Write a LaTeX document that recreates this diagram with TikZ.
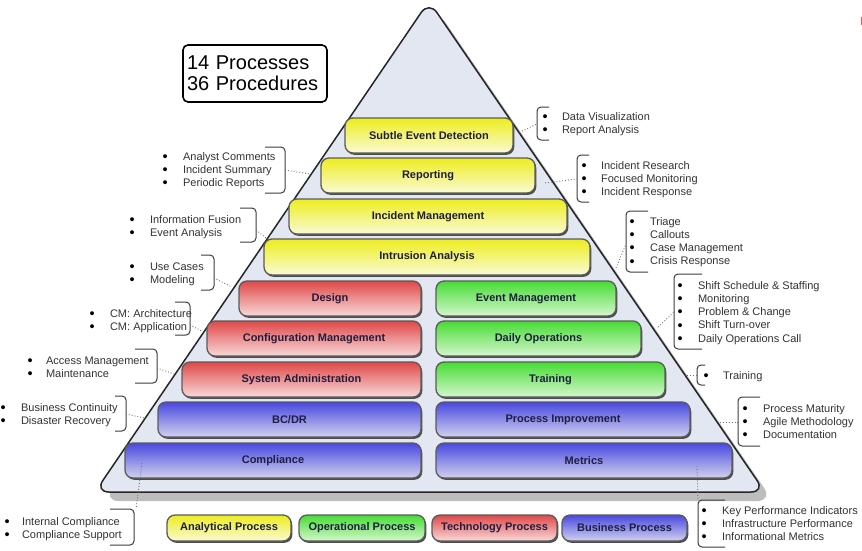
\documentclass[tikz,border=0pt]{standalone}
\usepackage{fontspec}
\setmainfont{Liberation Sans}
\usetikzlibrary{shadows}

\definecolor{pyrfill}{HTML}{E2E7F2}
\definecolor{pyrshadow}{HTML}{BDBDBD}
\definecolor{barline}{HTML}{5A5A5A}
\definecolor{barshadow}{HTML}{4C4C4C}
\definecolor{bartext}{HTML}{1E1E40}
\definecolor{listgray}{HTML}{333333}
\definecolor{brkgray}{HTML}{3C3C3C}
\definecolor{dotgray}{HTML}{707070}
\definecolor{ytop}{HTML}{EDED1E}
\definecolor{ybot}{HTML}{FAFAD6}
\definecolor{rtop}{HTML}{E04848}
\definecolor{rbot}{HTML}{F8DADA}
\definecolor{gtop}{HTML}{46DC34}
\definecolor{gbot}{HTML}{D6F6CE}
\definecolor{btop}{HTML}{4848E0}
\definecolor{bbot}{HTML}{D2D2EE}

% a slightly heavier bullet, kept at a fixed width
\newcommand{\bigdot}{\makebox[3.85pt]{\raisebox{-1.3pt}{\color{black}\fontsize{14.5}{13}\selectfont\textbullet}}}
% one bulleted row of a side list
\newcommand{\itm}[1]{\bigdot & #1\\}

\begin{document}
\begin{tikzpicture}[x=1pt,y=-1pt,
  pbar/.style={rounded corners=8pt, draw=barline, line width=1.3pt,
    drop shadow={shadow xshift=1.3pt, shadow yshift=-1.8pt, fill=barshadow, opacity=1},
    font=\fontsize{11}{13}\selectfont\bfseries, text=bartext, inner sep=0pt},
  ybar/.style={pbar, top color=ytop, bottom color=ybot},
  rbar/.style={pbar, top color=rtop, bottom color=rbot},
  gbar/.style={pbar, top color=gtop, bottom color=gbot},
  bbar/.style={pbar, top color=btop, bottom color=bbot},
  listtxt/.style={anchor=base west, inner sep=0pt,
    font=\fontsize{11}{13.3}\selectfont, text=listgray},
  brk/.style={draw=brkgray, line width=1pt, rounded corners=4pt},
  dots/.style={draw=dotgray, dotted, line width=0.9pt},
]
\useasboundingbox (0,0) rectangle (862,550);
\fill[white] (0,0) rectangle (862,550);

% pyramid with its shadow
\fill[pyrshadow, rounded corners=16pt]
  (437,501) -- (103,501) -- (437,10) -- (773,501) -- cycle;
\draw[fill=pyrfill, draw=black!85, line width=1.5pt, rounded corners=14pt]
  (429,492) -- (95,492) -- (429,1) -- (765,492) -- cycle;

% summary box
\node[draw, fill=white, line width=1.6pt, rounded corners=5pt,
  minimum width=144pt, minimum height=57pt, text width=136pt,
  inner xsep=4pt, align=left, font=\fontsize{20}{21}\selectfont]
  (summary) at (255,73.5) {14 Processes\\36 Procedures};

% analytical layers
\node[ybar, minimum width=168pt, minimum height=35pt] (sed) at (429,135.5) {Subtle Event Detection};
\node[ybar, minimum width=214pt, minimum height=35pt] (rep) at (428,175.5) {Reporting};
\node[ybar, minimum width=278pt, minimum height=35pt] (im)  at (428,216.5) {Incident Management};
\node[ybar, minimum width=326pt, minimum height=36pt] (ia)  at (427,257) {Intrusion Analysis};

% technology and operational layers
\node[rbar, minimum width=182pt, minimum height=35pt] (des) at (330,298.5) {Design};
\node[gbar, minimum width=180pt, minimum height=35pt] (em)  at (526,298.5) {Event Management};
\node[rbar, minimum width=214pt, minimum height=35pt] (cm)  at (314,338.5) {Configuration Management};
\node[gbar, minimum width=205pt, minimum height=35pt] (do)  at (538.5,338.5) {Daily Operations};
\node[rbar, minimum width=239pt, minimum height=35pt] (sa)  at (301.5,379.5) {System Administration};
\node[gbar, minimum width=229pt, minimum height=35pt] (tr)  at (550.5,379.5) {Training};

% business layers
\node[bbar, minimum width=263pt, minimum height=35pt] (bc)  at (289.5,419.5) {BC/DR};
\node[bbar, minimum width=254pt, minimum height=35pt] (pi)  at (563,419.5) {Process Improvement};
\node[bbar, minimum width=296pt, minimum height=35pt] (co)  at (273,460.5) {Compliance};
\node[bbar, minimum width=296pt, minimum height=35pt] (me)  at (584,460.5) {Metrics};

% legend
\node[ybar, minimum width=124pt, minimum height=26pt] (lgA) at (229,528) {Analytical Process};
\node[gbar, minimum width=126pt, minimum height=26pt] (lgO) at (362,528) {Operational Process};
\node[rbar, minimum width=125pt, minimum height=26pt] (lgT) at (494.5,528) {Technology Process};
\node[bbar, minimum width=125pt, minimum height=26pt] (lgB) at (624.5,528) {Business Process};

% procedure lists, right side
\node[listtxt] (lSED) at (543,120) {\begin{tabular}[t]{@{}c@{\hspace{15pt}}l@{}}\itm{Data Visualization}\itm{Report Analysis}\end{tabular}};
\draw[brk] (549,107) -- (537,107) -- (537,140) -- (549,140);
\coordinate (sedE) at (522,131); \coordinate (sedB) at (537,124);
\draw[dots] (sedE) -- (sedB);

\node[listtxt] (lREP) at (582,169) {\begin{tabular}[t]{@{}c@{\hspace{15pt}}l@{}}\itm{Incident Research}\itm{Focused Monitoring}\itm{Incident Response}\end{tabular}};
\draw[brk] (589,155) -- (577,155) -- (577,202) -- (589,202);
\coordinate (repE) at (545,183); \coordinate (repB) at (577,179);
\draw[dots] (repE) -- (repB);

\node[listtxt] (lIA) at (630,225) {\begin{tabular}[t]{@{}c@{\hspace{16pt}}l@{}}\itm{Triage}\itm{Callouts}\itm{Case Management}\itm{Crisis Response}\end{tabular}};
\draw[brk] (648,211) -- (626,211) -- (626,272) -- (648,272);
\coordinate (iaE) at (616,268); \coordinate (iaB) at (626,244);
\draw[dots] (iaE) -- (iaB);

\node[listtxt] (lDO) at (678,289) {\begin{tabular}[t]{@{}c@{\hspace{16pt}}l@{}}\itm{Shift Schedule \& Staffing}\itm{Monitoring}\itm{Problem \& Change}\itm{Shift Turn-over}\itm{Daily Operations Call}\end{tabular}};
\draw[brk] (702,274) -- (674,274) -- (674,349) -- (702,349);
\coordinate (doE) at (658,327); \coordinate (doB) at (674,312);
\draw[dots] (doE) -- (doB);

\node[listtxt] (lTR) at (704,379) {\begin{tabular}[t]{@{}c@{\hspace{15pt}}l@{}}\itm{Training}\end{tabular}};
\draw[brk] (705,365) -- (697,365) -- (697,385) -- (705,385);
\coordinate (trE) at (684,375); \coordinate (trB) at (697,375);
\draw[dots] (trE) -- (trB);

\node[listtxt] (lPI) at (743,412) {\begin{tabular}[t]{@{}c@{\hspace{16pt}}l@{}}\itm{Process Maturity}\itm{Agile Methodology}\itm{Documentation}\end{tabular}};
\draw[brk] (760,397) -- (738,397) -- (738,446) -- (760,446);
\coordinate (piE) at (720,422); \coordinate (piB) at (738,422);
\draw[dots] (piE) -- (piB);

\node[listtxt] (lME) at (702,514) {\begin{tabular}[t]{@{}c@{\hspace{16pt}}l@{}}\itm{Key Performance Indicators}\itm{Infrastructure Performance}\itm{Informational Metrics}\end{tabular}};
\draw[brk] (725,500) -- (698,500) -- (698,547) -- (725,547);
\coordinate (meE) at (697,466); \coordinate (meB) at (698,500);
\draw[dots] (meE) -- (meB);

% procedure lists, left side
\node[listtxt] (lRP) at (163,160) {\begin{tabular}[t]{@{}c@{\hspace{16pt}}l@{}}\itm{Analyst Comments}\itm{Incident Summary}\itm{Periodic Reports}\end{tabular}};
\draw[brk] (265,147) -- (285,147) -- (285,193) -- (265,193);
\coordinate (rpB) at (285,170); \coordinate (rpE) at (310,174);
\draw[dots] (rpB) -- (rpE);

\node[listtxt] (lIM) at (130,223) {\begin{tabular}[t]{@{}c@{\hspace{16pt}}l@{}}\itm{Information Fusion}\itm{Event Analysis}\end{tabular}};
\draw[brk] (240,208) -- (256,208) -- (256,242) -- (240,242);
\coordinate (imB) at (256,230); \coordinate (imE) at (266,238);
\draw[dots] (imB) -- (imE);

\node[listtxt] (lDE) at (130,270) {\begin{tabular}[t]{@{}c@{\hspace{16pt}}l@{}}\itm{Use Cases}\itm{Modeling}\end{tabular}};
\draw[brk] (201,255) -- (214,255) -- (214,290) -- (201,290);
\coordinate (deB) at (214,278); \coordinate (deE) at (232,287);
\draw[dots] (deB) -- (deE);

\node[listtxt] (lCM) at (90,317) {\begin{tabular}[t]{@{}c@{\hspace{16pt}}l@{}}\itm{CM: Architecture}\itm{CM: Application}\end{tabular}};
\draw[brk] (175,302) -- (190,302) -- (190,335) -- (175,335);
\coordinate (cmB) at (190,325); \coordinate (cmE) at (202,331);
\draw[dots] (cmB) -- (cmE);

\node[listtxt] (lSA) at (28,364) {\begin{tabular}[t]{@{}c@{\hspace{14pt}}l@{}}\itm{Access Management}\itm{Maintenance}\end{tabular}};
\draw[brk] (135,349) -- (157,349) -- (157,383) -- (135,383);
\coordinate (saB) at (157,368); \coordinate (saE) at (174,374);
\draw[dots] (saB) -- (saE);

\node[listtxt] (lBC) at (1,411) {\begin{tabular}[t]{@{}c@{\hspace{16pt}}l@{}}\itm{Business Continuity}\itm{Disaster Recovery}\end{tabular}};
\draw[brk] (115,396) -- (126,396) -- (126,431) -- (115,431);
\coordinate (bcB) at (126,414); \coordinate (bcE) at (144,418);
\draw[dots] (bcB) -- (bcE);

\node[listtxt] (lCO) at (5,525) {\begin{tabular}[t]{@{}c@{\hspace{13pt}}l@{}}\itm{Internal Compliance}\itm{Compliance Support}\end{tabular}};
\draw[brk] (110,509) -- (134,509) -- (134,545) -- (110,545);
\coordinate (coE) at (142,463); \coordinate (coB) at (136,509);
\draw[dots] (coE) -- (coB);

% clipped mark at the right edge
\fill[black!45!red!60] (860.5,17) rectangle (862,25);
\end{tikzpicture}
\end{document}
